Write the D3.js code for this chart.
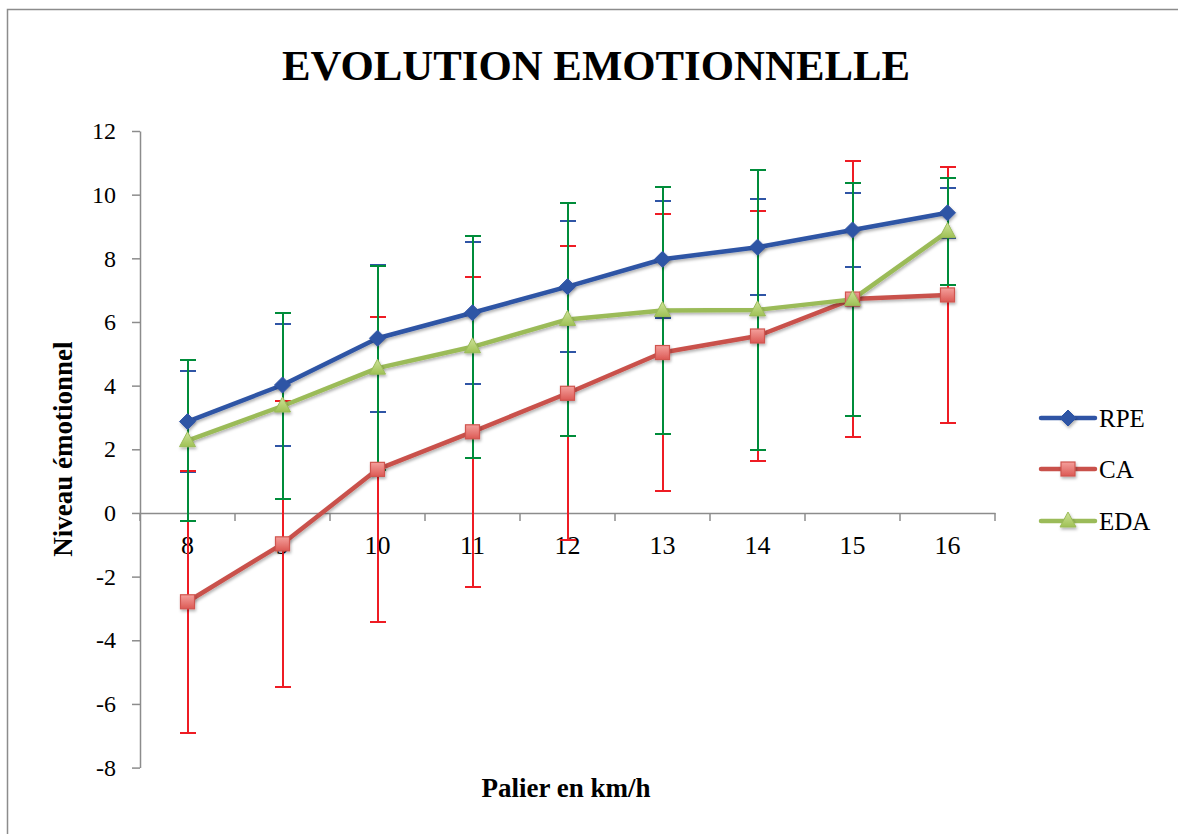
<!DOCTYPE html>
<html>
<head>
<meta charset="utf-8">
<script src="https://cdn.jsdelivr.net/npm/d3@7"></script>
<style>
  body { margin: 0; background: #fff; }
  svg text { font-family: "Liberation Serif", "DejaVu Serif", serif; fill: #000; }
</style>
</head>
<body>
<svg id="chart" width="1178" height="834"></svg>
<script>
// paliers (km/h)
const categories = ["8", "9", "10", "11", "12", "13", "14", "15", "16"];
const seriesNames = ["RPE", "CA", "EDA"];

// moyennes
const rpe = [2.87, 4.02, 5.49, 6.29, 7.11, 7.97, 8.35, 8.89, 9.43];
const ca = [-2.79, -0.97, 1.37, 2.55, 3.76, 5.04, 5.56, 6.72, 6.85];
const eda = [2.27, 3.36, 4.55, 5.22, 6.08, 6.36, 6.38, 6.71, 8.84];

// ecarts-types (barres d'erreur)
const rpeSd = [1.58, 1.91, 2.31, 2.23, 2.05, 1.84, 1.51, 1.17, 0.78];
const caSd = [4.11, 4.49, 4.79, 4.87, 4.62, 4.34, 3.93, 4.34, 4.02];
const edaSd = [2.53, 2.92, 3.21, 3.48, 3.66, 3.87, 4.40, 3.65, 1.68];

const yTicks = [-8, -6, -4, -2, 0, 2, 4, 6, 8, 10, 12];

const series = [
  { name: seriesNames[0], values: rpe, sd: rpeSd, line: "#2f54a5", err: "#2f55a5", shape: "diamond" },
  { name: seriesNames[1], values: ca, sd: caSd, line: "#c9514b", err: "#ee1c24", shape: "square" },
  { name: seriesNames[2], values: eda, sd: edaSd, line: "#9bbb59", err: "#008c3a", shape: "triangle" }
];

const svg = d3.select("#chart");

// cadre du graphique
svg.append("path")
  .attr("d", "M7.5,834 L7.5,9.5 L1178,9.5")
  .attr("fill", "none")
  .attr("stroke", "#8c8c8c")
  .attr("stroke-width", 1.5);

// gradients + ombre
const defs = svg.append("defs");
const gRed = defs.append("linearGradient").attr("id", "gRed").attr("x1", 0).attr("y1", 0).attr("x2", 0).attr("y2", 1);
gRed.append("stop").attr("offset", "0%").attr("stop-color", "#f4a09c");
gRed.append("stop").attr("offset", "100%").attr("stop-color", "#dc5a55");
const gGreen = defs.append("linearGradient").attr("id", "gGreen").attr("x1", 0).attr("y1", 0).attr("x2", 0).attr("y2", 1);
gGreen.append("stop").attr("offset", "0%").attr("stop-color", "#cfe39a");
gGreen.append("stop").attr("offset", "100%").attr("stop-color", "#9fc155");
const shadow = defs.append("filter").attr("id", "shadow").attr("x", "-50%").attr("y", "-50%").attr("width", "200%").attr("height", "200%");
shadow.append("feDropShadow").attr("dx", 1).attr("dy", 2).attr("stdDeviation", 1.5).attr("flood-color", "#000").attr("flood-opacity", 0.3);

const fills = { RPE: "#2f54a5", CA: "url(#gRed)", EDA: "url(#gGreen)" };
const strokes = { RPE: "#2f54a5", CA: "#d0554f", EDA: "#9bbb59" };

// Scales
const x = d3.scaleBand().domain(categories).range([140, 995]).padding(0);
const y = d3.scaleLinear().domain([-8, 12]).range([767.6, 131]);

// Title
svg.append("text")
  .attr("x", 596)
  .attr("y", 80)
  .attr("text-anchor", "middle")
  .style("font-size", "42.8px")
  .style("font-weight", "bold")
  .text("EVOLUTION EMOTIONNELLE");

// Y axis
const yAxis = svg.append("g")
  .attr("transform", "translate(140,0)")
  .call(d3.axisLeft(y).tickValues(yTicks).tickFormat((d) => String(d)).tickSize(8).tickPadding(16).tickSizeOuter(0));
yAxis.select(".domain").attr("stroke", "#8c8c8c").attr("stroke-width", 1.5);
yAxis.selectAll(".tick line").attr("stroke", "#8c8c8c").attr("stroke-width", 1.5);
yAxis.selectAll(".tick text").style("font-size", "24px").style("font-family", "Liberation Serif");

// X axis (labels at band centers, ticks at band edges)
const xAxis = svg.append("g")
  .attr("transform", "translate(0," + y(0) + ")")
  .call(d3.axisBottom(x).tickSize(0).tickPadding(23).tickSizeOuter(0));
xAxis.select(".domain").attr("stroke", "#8c8c8c").attr("stroke-width", 1.5);
xAxis.selectAll(".tick text").style("font-size", "26px").style("font-family", "Liberation Serif");

const edges = categories.map((c) => x(c)).concat([x.range()[1]]);
xAxis.selectAll(".edge")
  .data(edges)
  .enter()
  .append("line")
  .attr("x1", (d) => d)
  .attr("x2", (d) => d)
  .attr("y1", 0)
  .attr("y2", 8)
  .attr("stroke", "#8c8c8c")
  .attr("stroke-width", 1.5);

// Axis titles
svg.append("text")
  .attr("transform", "translate(72,449) rotate(-90)")
  .attr("text-anchor", "middle")
  .style("font-size", "27px")
  .style("font-weight", "bold")
  .text("Niveau émotionnel");

svg.append("text")
  .attr("x", 566)
  .attr("y", 797)
  .attr("text-anchor", "middle")
  .style("font-size", "27px")
  .style("font-weight", "bold")
  .text("Palier en km/h");

const cx = (i) => x(categories[i]) + x.bandwidth() / 2;

// Error bars (green drawn last, on top)
series.forEach((s) => {
  const g = svg.append("g").attr("class", "err-" + s.name);
  s.values.forEach((v, i) => {
    const px = Math.round(cx(i));
    const top = Math.round(y(v + s.sd[i]));
    const bot = Math.round(y(v - s.sd[i]));
    g.append("line")
      .attr("x1", px).attr("x2", px)
      .attr("y1", top).attr("y2", bot)
      .attr("stroke", s.err).attr("stroke-width", 2);
    [top, bot].forEach((yy) => {
      g.append("line")
        .attr("x1", px - 8).attr("x2", px + 8)
        .attr("y1", yy).attr("y2", yy)
        .attr("stroke", s.err).attr("stroke-width", 2);
    });
  });
});

// Lines
const line = d3.line().x((d, i) => cx(i)).y((d) => y(d));
series.forEach((s) => {
  svg.append("path")
    .datum(s.values)
    .attr("fill", "none")
    .attr("stroke", s.line)
    .attr("stroke-width", 4.5)
    .attr("stroke-linejoin", "round")
    .attr("filter", "url(#shadow)")
    .attr("d", line);
});

// Markers
function marker(g, shape, name, px, py) {
  if (shape === "diamond") {
    g.append("path")
      .attr("d", `M${px},${py - 8} L${px + 8},${py} L${px},${py + 8} L${px - 8},${py} Z`)
      .attr("fill", fills[name]).attr("stroke", strokes[name]).attr("stroke-width", 1)
      .attr("filter", "url(#shadow)");
  } else if (shape === "square") {
    g.append("rect")
      .attr("x", px - 7).attr("y", py - 7).attr("width", 14).attr("height", 14)
      .attr("fill", fills[name]).attr("stroke", strokes[name]).attr("stroke-width", 1.2)
      .attr("filter", "url(#shadow)");
  } else {
    g.append("path")
      .attr("d", `M${px},${py - 9} L${px + 8},${py + 6} L${px - 8},${py + 6} Z`)
      .attr("fill", fills[name]).attr("stroke", strokes[name]).attr("stroke-width", 1)
      .attr("filter", "url(#shadow)");
  }
}

series.forEach((s) => {
  const g = svg.append("g");
  s.values.forEach((v, i) => marker(g, s.shape, s.name, cx(i), y(v)));
});

// Legend
const legendY = [418, 469, 521];
series.forEach((s, i) => {
  const g = svg.append("g");
  g.append("line")
    .attr("x1", 1041).attr("x2", 1095)
    .attr("y1", legendY[i]).attr("y2", legendY[i])
    .attr("stroke", s.line).attr("stroke-width", 4.5).attr("stroke-linecap", "round");
  marker(g, s.shape, s.name, 1068, legendY[i]);
  g.append("text")
    .attr("x", 1099)
    .attr("y", legendY[i] + 8.5)
    .style("font-size", "25px")
    .text(s.name);
});
</script>
</body>
</html>
